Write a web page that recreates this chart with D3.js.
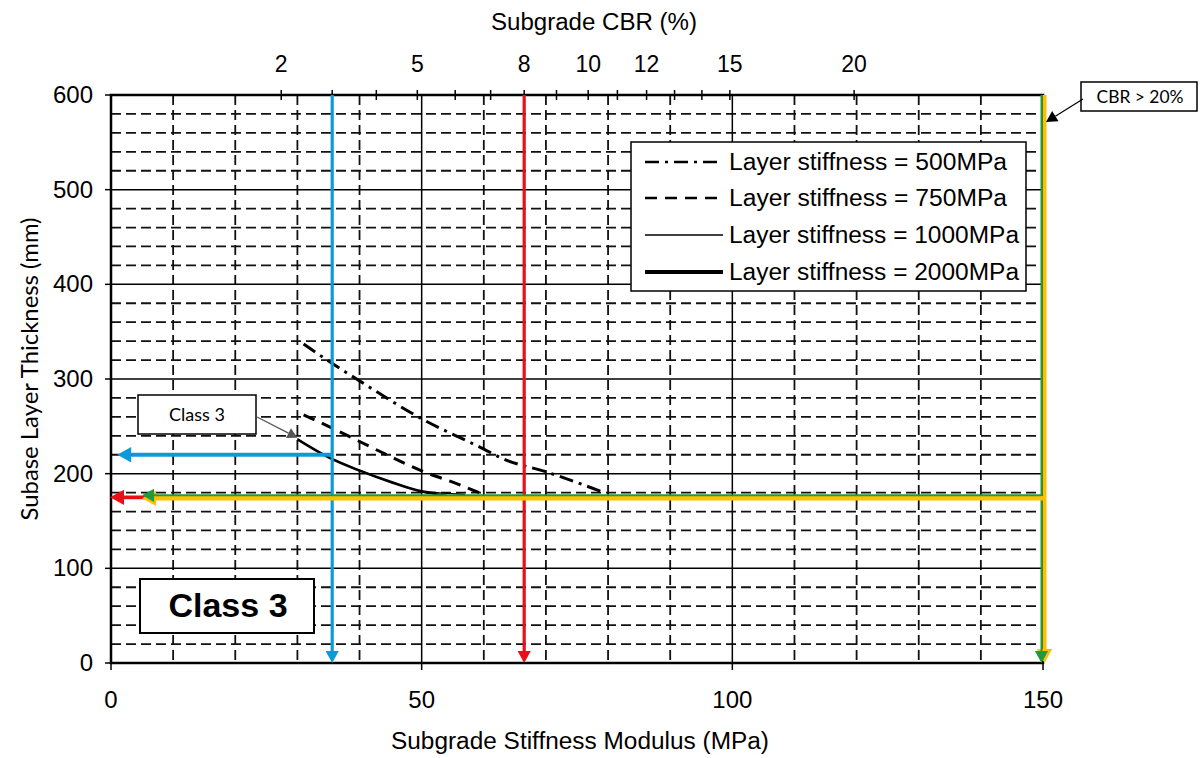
<!DOCTYPE html>
<html><head><meta charset="utf-8">
<script src="https://cdn.jsdelivr.net/npm/d3@7"></script>
<style>body{margin:0;background:#fff}svg{display:block}</style>
</head><body>
<svg id="c" width="1204" height="758"></svg>
<script>
// ---------- data ----------
const xTicks = [0, 50, 100, 150];
const yTicks = [0, 100, 200, 300, 400, 500, 600];
const xMinorGrid = [10, 20, 30, 40, 60, 70, 80, 90, 110, 120, 130, 140];
const xMajorGrid = [50, 100];
const yMinorGrid = [20, 40, 60, 80, 120, 140, 160, 180, 220, 240, 260, 280, 320, 340, 360, 380, 420, 440, 460, 480, 520, 540, 560, 580];
const yMajorGrid = [100, 200, 300, 400, 500];
// Subgrade CBR top axis: CBR value and its position in MPa
const cbrTickValues = [2, 3, 4, 5, 6, 7, 8, 9, 10, 11, 12, 13, 14, 15, 20];
const cbrTickMPa    = [27.4, 35.6, 42.7, 49.3, 55.4, 61.1, 66.5, 71.7, 76.8, 81.5, 86.2, 90.7, 95.1, 99.6, 119.6];
const cbrLabels = [2, 5, 8, 10, 12, 15, 20];

const s500X  = [31, 35, 40, 50, 60, 63, 70, 79];
const s500Y  = [337, 319, 298, 258, 226, 216, 202, 181];
const s750X  = [31, 35, 40, 45, 50, 55, 60];
const s750Y  = [262, 250, 234, 218, 203, 191, 178];
const s1000X = [30, 35, 40, 45, 50, 57];
const s1000Y = [237, 218, 204, 192, 182, 178];
const s2000X = [30, 35, 40, 45, 50, 54];
const s2000Y = [236, 217, 203, 191, 181, 177];
const legendLabels = ["Layer stiffness = 500MPa", "Layer stiffness = 750MPa", "Layer stiffness = 1000MPa", "Layer stiffness = 2000MPa"];

// guide arrows (MPa, mm)
const blueCBR3MPa = 35.6, blueThickness = 220;
const redCBR8MPa = 66.5, redThickness = 175;
const yellowMPa = 150, yellowThickness = 175;

// ---------- layout ----------
const svg = d3.select("#c");
const x = d3.scaleLinear().domain([0, 150]).range([111, 1043]);
const y = d3.scaleLinear().domain([0, 600]).range([663, 95]);
const ARIAL = "'Liberation Sans', Arial, sans-serif";
const CAL = "Lato, 'Open Sans', sans-serif";

svg.append("rect").attr("width", 1204).attr("height", 758).attr("fill", "#fff");

// grid
const g = svg.append("g");
g.selectAll(".vx").data(xMinorGrid).join("line")
  .attr("x1", d => x(d)).attr("x2", d => x(d)).attr("y1", y(600)).attr("y2", y(0))
  .attr("stroke", "#111").attr("stroke-width", 1.8).attr("stroke-dasharray", "10,5");
g.selectAll(".hy").data(yMinorGrid).join("line")
  .attr("y1", d => y(d)).attr("y2", d => y(d)).attr("x1", x(0)).attr("x2", x(150))
  .attr("stroke", "#111").attr("stroke-width", 1.8).attr("stroke-dasharray", "10,5");
g.selectAll(".vX").data(xMajorGrid).join("line")
  .attr("x1", d => x(d)).attr("x2", d => x(d)).attr("y1", y(600)).attr("y2", y(0))
  .attr("stroke", "#000").attr("stroke-width", 1.5);
g.selectAll(".hY").data(yMajorGrid).join("line")
  .attr("y1", d => y(d)).attr("y2", d => y(d)).attr("x1", x(0)).attr("x2", x(150))
  .attr("stroke", "#000").attr("stroke-width", 1.5);

// frame
svg.append("rect").attr("x", x(0)).attr("y", y(600)).attr("width", x(150) - x(0)).attr("height", y(0) - y(600))
  .attr("fill", "none").attr("stroke", "#000").attr("stroke-width", 2.5);

// left ticks
svg.selectAll(".lt").data(yTicks).join("line")
  .attr("x1", x(0) - 6).attr("x2", x(0)).attr("y1", d => y(d)).attr("y2", d => y(d))
  .attr("stroke", "#000").attr("stroke-width", 1.5);
svg.selectAll(".ltl").data(yTicks).join("text")
  .attr("x", 93).attr("y", d => y(d) + 8).attr("text-anchor", "end")
  .attr("font-family", ARIAL).attr("font-size", 24).text(d => d);
// bottom ticks
svg.selectAll(".bt").data(xTicks).join("line")
  .attr("x1", d => x(d)).attr("x2", d => x(d)).attr("y1", y(0)).attr("y2", y(0) + 7)
  .attr("stroke", "#000").attr("stroke-width", 1.5);
svg.selectAll(".btl").data(xTicks).join("text")
  .attr("x", d => x(d)).attr("y", 708).attr("text-anchor", "middle")
  .attr("font-family", ARIAL).attr("font-size", 24).text(d => d);
// top CBR ticks
svg.selectAll(".tt").data(cbrTickMPa).join("line")
  .attr("x1", d => x(d)).attr("x2", d => x(d)).attr("y1", y(600) - 5).attr("y2", y(600) + 5)
  .attr("stroke", "#000").attr("stroke-width", 1.5);
svg.selectAll(".ttl").data(cbrLabels).join("text")
  .attr("x", d => x(cbrTickMPa[cbrTickValues.indexOf(d)])).attr("y", 72).attr("text-anchor", "middle")
  .attr("font-family", ARIAL).attr("font-size", 23).text(d => d);

// axis titles
svg.append("text").attr("x", 594).attr("y", 30).attr("text-anchor", "middle")
  .attr("font-family", ARIAL).attr("font-size", 23).attr("textLength", 206).attr("lengthAdjust", "spacingAndGlyphs")
  .text("Subgrade CBR (%)");
svg.append("text").attr("x", 580).attr("y", 749).attr("text-anchor", "middle")
  .attr("font-family", ARIAL).attr("font-size", 23).attr("textLength", 378).attr("lengthAdjust", "spacingAndGlyphs")
  .text("Subgrade Stiffness Modulus (MPa)");
svg.append("text").attr("transform", "translate(38,369) rotate(-90)").attr("text-anchor", "middle")
  .attr("font-family", CAL).attr("font-size", 23).attr("textLength", 303).attr("lengthAdjust", "spacingAndGlyphs")
  .text("Subase Layer Thickness (mm)");

// curves
const line = d3.line().x(d => x(d[0])).y(d => y(d[1])).curve(d3.curveMonotoneX);
const zip = (a, b) => a.map((v, i) => [v, b[i]]);
const styles = [
  {xs: s500X, ys: s500Y, w: 3, dash: "14,6,3,6"},
  {xs: s750X, ys: s750Y, w: 3, dash: "12,8"},
  {xs: s1000X, ys: s1000Y, w: 1.3, dash: null},
  {xs: s2000X, ys: s2000Y, w: 2.0, dash: null}
];
styles.forEach(s => {
  svg.append("path").attr("d", line(zip(s.xs, s.ys))).attr("fill", "none")
    .attr("stroke", "#000").attr("stroke-width", s.w).attr("stroke-dasharray", s.dash);
});

// arrow helper
function arrow(x1, y1, x2, y2, color, w, head) {
  const ang = Math.atan2(y2 - y1, x2 - x1);
  const L = head, W = head * 0.55;
  const bx = x2 - L * Math.cos(ang), by = y2 - L * Math.sin(ang);
  svg.append("line").attr("x1", x1).attr("y1", y1).attr("x2", bx).attr("y2", by)
    .attr("stroke", color).attr("stroke-width", w);
  const px = -Math.sin(ang) * W, py = Math.cos(ang) * W;
  svg.append("path").attr("d", `M${x2},${y2}L${bx + px},${by + py}L${bx - px},${by - py}Z`).attr("fill", color);
}

const BLUE = "#0d9ad8", RED = "#e81018", YEL = "#ffc000", GRN = "#1f9a3c";
// blue
arrow(x(blueCBR3MPa), y(600), x(blueCBR3MPa), y(0), BLUE, 3.2, 12);
arrow(x(blueCBR3MPa), y(blueThickness), x(1), y(blueThickness), BLUE, 3.8, 14);
// red
arrow(x(redCBR8MPa), y(600), x(redCBR8MPa), y(0), RED, 3.2, 12);
arrow(x(redCBR8MPa), y(redThickness), x(0) - 1, y(redThickness), RED, 3.8, 14);
// yellow + green
arrow(x(yellowMPa) + 1.5, y(600), x(yellowMPa) + 1.5, y(0), YEL, 4, 14);
arrow(x(yellowMPa) - 1.5, y(600), x(yellowMPa) - 1.5, y(0), GRN, 2, 12);
arrow(x(yellowMPa), y(yellowThickness) + 1, x(5), y(yellowThickness) + 1, YEL, 4.5, 14);
arrow(x(yellowMPa) - 1.5, y(yellowThickness) - 2, x(5), y(yellowThickness) - 2, GRN, 2, 12);

// legend
const lg = svg.append("g");
lg.append("rect").attr("x", 631).attr("y", 142).attr("width", 395).attr("height", 149)
  .attr("fill", "#fff").attr("stroke", "#000").attr("stroke-width", 1.5);
const rowY = [162, 198, 235, 272];
const legW = [2.6, 2.6, 1.5, 3.8];
const legDash = ["14,6,3,6", "12,8", null, null];
const legLen = [278, 278, 290, 290];
legendLabels.forEach((t, i) => {
  lg.append("line").attr("x1", 645).attr("x2", 723).attr("y1", rowY[i]).attr("y2", rowY[i])
    .attr("stroke", "#000").attr("stroke-width", legW[i]).attr("stroke-dasharray", legDash[i]);
  lg.append("text").attr("x", 729).attr("y", rowY[i] + 8).attr("font-family", ARIAL).attr("font-size", 23.5)
    .attr("textLength", legLen[i]).attr("lengthAdjust", "spacingAndGlyphs").text(t);
});

// Class 3 callout (small)
svg.append("rect").attr("x", 138).attr("y", 395).attr("width", 118).attr("height", 39)
  .attr("fill", "#fff").attr("stroke", "#000").attr("stroke-width", 1.5);
svg.append("text").attr("x", 197).attr("y", 421).attr("text-anchor", "middle")
  .attr("font-family", CAL).attr("font-size", 18).text("Class 3");
arrow(257, 417, x(30), y(238), "#555", 1.2, 10);

// CBR > 20% callout
svg.append("rect").attr("x", 1081).attr("y", 82).attr("width", 116).attr("height", 29)
  .attr("fill", "#fff").attr("stroke", "#000").attr("stroke-width", 1.5);
svg.append("text").attr("x", 1140).attr("y", 103).attr("text-anchor", "middle")
  .attr("font-family", CAL).attr("font-size", 18).attr("textLength", 87).attr("lengthAdjust", "spacingAndGlyphs").text("CBR > 20%");
arrow(1083, 99, 1046, 122, "#000", 1.2, 11);

// Class 3 big label
svg.append("rect").attr("x", 140).attr("y", 579).attr("width", 174).attr("height", 54)
  .attr("fill", "#fff").attr("stroke", "#000").attr("stroke-width", 2);
svg.append("text").attr("x", 228).attr("y", 617).attr("text-anchor", "middle")
  .attr("font-family", ARIAL).attr("font-weight", "bold").attr("font-size", 34).text("Class 3");
</script>
</body></html>
